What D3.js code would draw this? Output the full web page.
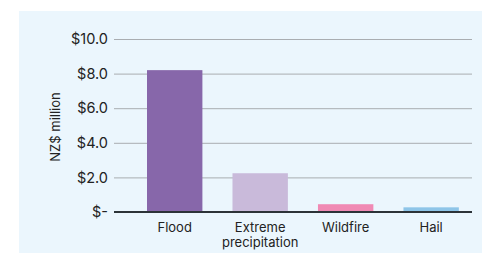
<!DOCTYPE html>
<html>
<head>
<meta charset="utf-8">
<script src="https://cdn.jsdelivr.net/npm/d3@7"></script>
<style>
body{margin:0;background:#fff;}
text{font-family:Inter,"Noto Sans",sans-serif;fill:#222;}
</style>
</head>
<body>
<svg id="chart"></svg>
<script>
// hazard categories and losses (NZ$ million)
var categories = ["Flood","Extreme precipitation","Wildfire","Hail"];
var labelLines = [["Flood"],["Extreme","precipitation"],["Wildfire"],["Hail"]];
var values = [8.2, 2.24, 0.45, 0.27];
var colors = ["#8767aa","#c9bada","#f08ab4","#8ec5e8"];
var yTicks = [0,2,4,6,8,10];

var screen = {width:482, height:253};
var margins = {top:39, left:114, right:10, bottom:41};
var graph = {
    width: screen.width-margins.left-margins.right,
    height: screen.height-margins.top-margins.bottom
};

var svg = d3.select("#chart")
    .attr("width",screen.width)
    .attr("height",screen.height);

// light blue panel
svg.append("rect")
    .attr("x",19).attr("y",11)
    .attr("width",screen.width-19).attr("height",screen.height-11)
    .attr("fill","#ebf6fd");

var xScale = d3.scaleBand()
    .domain(categories)
    .range([0,graph.width])
    .paddingInner(0.352)
    .paddingOuter(0.27)
    .align(0.715);

var yScale = d3.scaleLinear()
    .domain([0,10])
    .range([graph.height,0]);

var g = svg.append("g")
    .attr("transform","translate("+margins.left+","+margins.top+")");

// gridlines + tick labels
var yAxis = d3.axisLeft(yScale)
    .tickValues(yTicks)
    .tickSize(-graph.width)
    .tickPadding(6)
    .tickFormat(function(d){ return d==0 ? "$-" : "$"+d.toFixed(1); });

var ya = g.append("g").call(yAxis);
ya.select(".domain").remove();
ya.selectAll(".tick line").attr("stroke","#a9adb1").attr("stroke-width",1);
ya.selectAll(".tick text").attr("font-size","14.5px").attr("fill","#222");

// bars
g.selectAll(".bar")
    .data(values)
    .enter()
    .append("rect")
    .classed("bar",true)
    .attr("x",function(d,i){ return xScale(categories[i]); })
    .attr("width",xScale.bandwidth())
    .attr("y",function(d){ return yScale(d); })
    .attr("height",function(d){ return yScale(0)-yScale(d); })
    .attr("fill",function(d,i){ return colors[i]; });

// baseline
g.append("line")
    .attr("x1",0).attr("x2",graph.width)
    .attr("y1",yScale(0)).attr("y2",yScale(0))
    .attr("stroke","#2c3338")
    .attr("stroke-width",2);

// category labels
var xl = g.selectAll(".xlabel")
    .data(categories)
    .enter()
    .append("text")
    .classed("xlabel",true)
    .attr("text-anchor","middle")
    .attr("font-size","13px")
    .attr("x",function(d){ return xScale(d)+xScale.bandwidth()/2; })
    .attr("y",yScale(0)+20);

xl.selectAll("tspan")
    .data(function(d,i){ return labelLines[i]; })
    .enter()
    .append("tspan")
    .attr("x",function(){ var p=this.parentNode; return p.getAttribute("x"); })
    .attr("dy",function(d,i){ return i==0 ? 0 : 14.5; })
    .text(function(d){ return d; });

// y axis title
svg.append("text")
    .text("NZ$ million")
    .attr("font-size","13px")
    .attr("text-anchor","middle")
    .attr("transform","translate(60,127) rotate(-90)");
</script>
</body>
</html>
